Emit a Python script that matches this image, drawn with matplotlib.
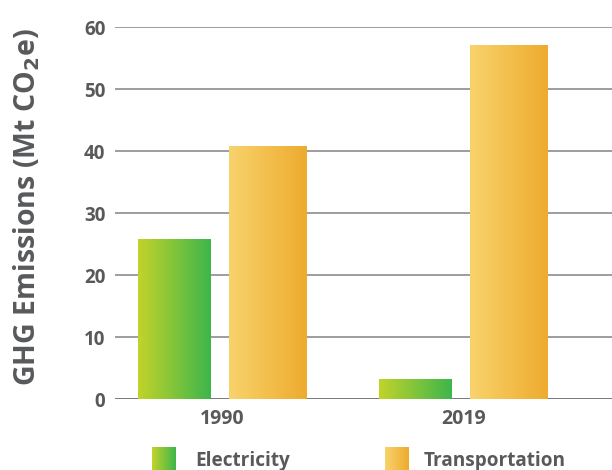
import numpy as np
import matplotlib
matplotlib.use("Agg")
import matplotlib.pyplot as plt
from matplotlib.colors import LinearSegmentedColormap

years = ["1990", "2019"]
series = ["Electricity", "Transportation"]
electricity = [25.8, 3.2]
transportation = [40.9, 57.1]
yticks = [0, 10, 20, 30, 40, 50, 60]

elec_cmap = LinearSegmentedColormap.from_list("elec", ["#c3d32a", "#3db64b"])
trans_cmap = LinearSegmentedColormap.from_list("trans", ["#f8d36c", "#eeab2e"])

TXT = "#58595b"
FONT = "Open Sans"

fig = plt.figure(figsize=(6.12, 4.70), dpi=100)
ax = fig.add_axes([0.188, 0.151, 0.812, 0.791])

x = np.arange(len(years))
grad = np.linspace(0, 1, 256).reshape(1, -1)

def gradient_bars(xs, vals, cmap, w):
    bars = ax.bar(xs, vals, width=w, color="none", zorder=3)
    for b in bars:
        x0, y0 = b.get_x(), b.get_y()
        bw, bh = b.get_width(), b.get_height()
        im = ax.imshow(grad, cmap=cmap, aspect="auto",
                       extent=(x0, x0 + bw, y0, y0 + bh), zorder=3,
                       interpolation="bicubic")
        im.set_clip_path(b)
    return bars

gradient_bars(x - 0.2, electricity, elec_cmap, 0.30)
gradient_bars(x + 0.185, transportation, trans_cmap, 0.32)

ax.set_xlim(-0.445, 1.613)
ax.set_ylim(0, 60)
ax.set_yticks(yticks)
ax.set_yticklabels([str(t) for t in yticks], fontsize=13.5, fontweight="bold",
                   color=TXT, family=FONT)
ax.set_xticks(x)
ax.set_xticklabels(years, fontsize=14, fontweight="bold", color=TXT, family=FONT)
ax.tick_params(axis="both", length=0)
ax.tick_params(axis="y", pad=7)
ax.tick_params(axis="x", pad=7)
for yv in yticks:
    ax.axhline(yv, color="#6d6e71" if yv == 0 else "#939598", lw=1.3, zorder=1)
for s in ax.spines.values():
    s.set_visible(False)

fig.text(0.043, 0.56, "GHG Emissions (Mt CO$_\\mathbf{2}$e)", rotation=90,
         ha="center", va="center", fontsize=20.5, fontweight="bold", color=TXT,
         family=FONT)

# legend
for i, (name, cmap) in enumerate([(series[0], elec_cmap), (series[1], trans_cmap)]):
    lx = [152, 385][i]
    tx = [195, 424][i]
    lax = fig.add_axes([lx / 612, 0.0, 24 / 612, 23 / 470])
    lax.imshow(grad, cmap=cmap, aspect="auto", interpolation="bicubic")
    lax.axis("off")
    fig.text(tx / 612, 1 - 461 / 470, name, ha="left", va="center", fontsize=13.7,
             fontweight="bold", color=TXT, family=FONT)

fig.savefig("out.png", dpi=100)
